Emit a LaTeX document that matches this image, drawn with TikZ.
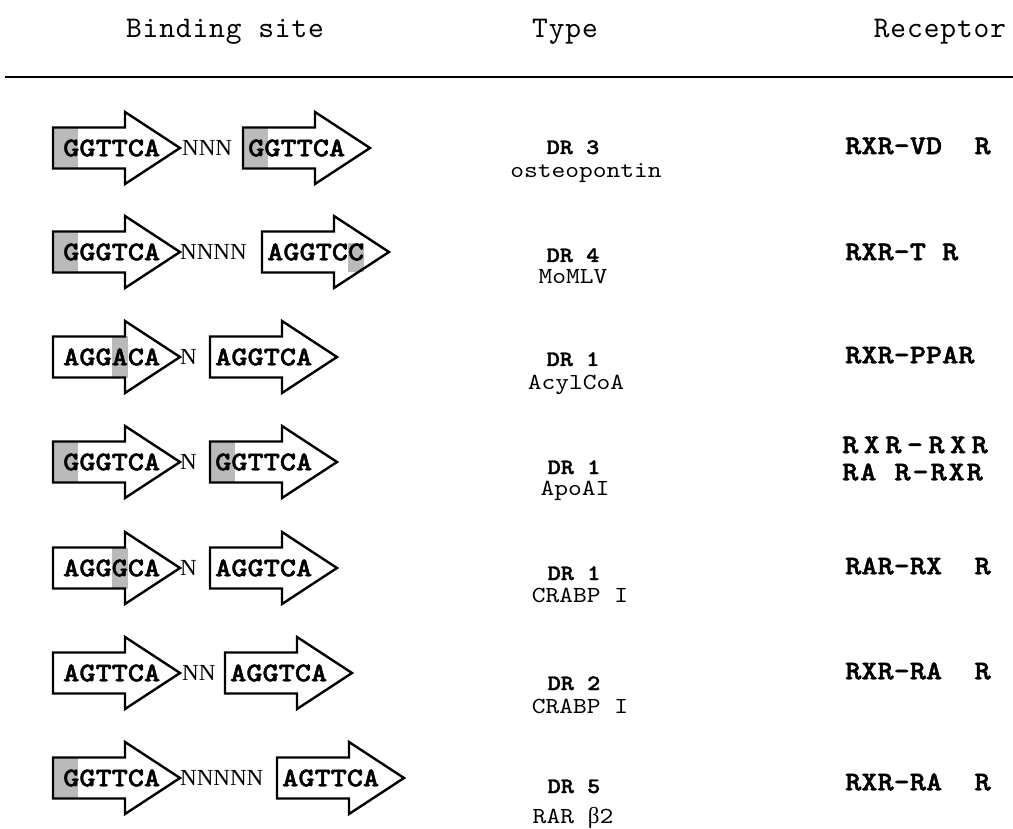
\documentclass[tikz,border=0pt]{standalone}
\usepackage{fontspec}
\setmainfont{Liberation Serif}
% typewriter faces, widened to a 0.6em pitch
\newfontfamily\monobold{lmmonolt10-bold.otf}[FakeStretch=1.14,FakeBold=1.6]
\newfontfamily\monothin{lmmono10-regular.otf}[FakeStretch=1.14]
\newfontfamily\headmono{lmmono10-regular.otf}[LetterSpace=3]
\newfontfamily\spacedmono{lmmonolt10-bold.otf}[FakeStretch=1.14,FakeBold=1.6,LetterSpace=20]
\newfontfamily\halfspacedmono{lmmonolt10-bold.otf}[FakeStretch=1.14,FakeBold=1.6,LetterSpace=7]

% outline of one half-site arrow: left edge x, centre line y
\newcommand\arrowpath[2]{(#1,#2-20.5) -- ++(72,0) -- ++(0,-15.5) -- ++(55,36)
  -- ++(-55,36) -- ++(0,-15.5) -- ++(-72,0) -- cycle}
% grey mark behind the first base (runs from the left edge)
\newcommand\shadefirst[2]{\fill[shadecol] (#1,#2-20.5) rectangle ++(25,41);}
% grey mark behind base number #4 (text offset #3)
\newcommand\shadebase[4]{\fill[shadecol] ({#1+#3+(#4-1)*16.2},#2-20.5) rectangle ++(16.2,41);}
% half site: name, left x, centre y, text offset, sequence, marks
\newcommand\halfsite[6]{%
  \fill[white] \arrowpath{#2}{#3};
  #6
  \draw[sitebody] \arrowpath{#2}{#3};
  \node[seq] (#1) at (#2+#4,#3) {#5};
}

\colorlet{shadecol}{black!27}
\tikzset{
  sitebody/.style={draw=black, line width=2.4pt, line join=miter},
  seq/.style={font=\fontsize{27}{27}\monobold, inner sep=0pt, anchor=west},
  spacer/.style={font=\fontsize{23}{23}\selectfont\rmfamily, inner sep=0pt, anchor=west},
  drlabel/.style={font=\fontsize{22}{22}\monobold, inner sep=0pt, anchor=base},
  genelabel/.style={font=\fontsize{23}{23}\monothin, inner sep=0pt, anchor=base},
  receptor/.style={font=\fontsize{27}{27}\monobold, inner sep=0pt, anchor=west},
  header/.style={font=\fontsize{30}{30}\headmono, inner sep=0pt, anchor=base},
}

\begin{document}
\begin{tikzpicture}[x=1pt,y=-1pt]
\useasboundingbox[fill=white] (0,0) rectangle (1013,829);

% column heads and rule
\node[header] (hsite) at (225,38) {Binding site};
\node[header] (htype) at (565,38) {Type};
\node[header] (hrec)  at (940,38) {Receptor};
\draw[line width=2.5pt] (5,77) -- (1013,77);

% row 1
\halfsite{a1}{53}{148}{10}{GGTTCA}{\shadefirst{53}{148}}
\node[spacer] (n1) at (182,148) {NNN};
\halfsite{b1}{243}{148}{5}{GGTTCA}{\shadefirst{243}{148}}
\node[drlabel] (t1) at (573,154) {DR 3};
\node[genelabel] (g1) at (586,178) {osteopontin};
\node[receptor] (r1) at (845,146) {RXR-VD\ \ R};

% row 2
\halfsite{a2}{53}{252}{10}{GGGTCA}{\shadefirst{53}{252}}
\node[spacer] (n2) at (180,252) {NNNN};
\halfsite{b2}{262}{252}{5}{AGGTCC}{\fill[shadecol] ({262+5+5*16.2},243) rectangle ++(16.2,29.5);}
\node[drlabel] (t2) at (573,262) {DR 4};
\node[genelabel] (g2) at (573,284) {MoMLV};
\node[receptor] (r2) at (845,252) {RXR-T R};

% row 3
\halfsite{a3}{53}{357}{10}{AGGACA}{\shadebase{53}{357}{10}{4}}
\node[spacer] (n3) at (180,357) {N};
\halfsite{b3}{210}{357}{5}{AGGTCA}{}
\node[drlabel] (t3) at (573,366) {DR 1};
\node[genelabel] (g3) at (576,389) {AcylCoA};
\node[receptor] (r3) at (845,355) {RXR-PPAR};

% row 4
\halfsite{a4}{53}{462}{10}{GGGTCA}{\shadefirst{53}{462}}
\node[spacer] (n4) at (180,462) {N};
\halfsite{b4}{210}{462}{5}{GGTTCA}{\shadefirst{210}{462}}
\node[drlabel] (t4) at (574,474) {DR 1};
\node[genelabel] (g4) at (575,495) {ApoAI};
\node[receptor] (r4a) at (842,445) {\spacedmono RXR-RXR};
\node[receptor] (r4b) at (842,472) {\halfspacedmono RA R-RXR};

% row 5
\halfsite{a5}{53}{568}{10}{AGGGCA}{\shadebase{53}{568}{10}{4}}
\node[spacer] (n5) at (180,568) {N};
\halfsite{b5}{210}{568}{5}{AGGTCA}{}
\node[drlabel] (t5) at (574,580) {DR 1};
\node[genelabel] (g5) at (580,602) {CRABP I};
\node[receptor] (r5) at (845,566) {RAR-RX\ \ R};

% row 6
\halfsite{a6}{53}{673}{10}{AGTTCA}{}
\node[spacer] (n6) at (182,673) {NN};
\halfsite{b6}{225}{673}{5}{AGGTCA}{}
\node[drlabel] (t6) at (574,690) {DR 2};
\node[genelabel] (g6) at (580,713) {CRABP I};
\node[receptor] (r6) at (845,671) {RXR-RA\ \ R};

% row 7
\halfsite{a7}{53}{778}{10}{GGTTCA}{\shadefirst{53}{778}}
\node[spacer] (n7) at (180,778) {NNNNN};
\halfsite{b7}{277}{778}{5}{AGTTCA}{}
\node[drlabel] (t7) at (574,793) {DR 5};
\node[genelabel] (g7) at (573,823) {RAR {\rmfamily β}2};
\node[receptor] (r7) at (845,782) {RXR-RA\ \ R};
\end{tikzpicture}
\end{document}
